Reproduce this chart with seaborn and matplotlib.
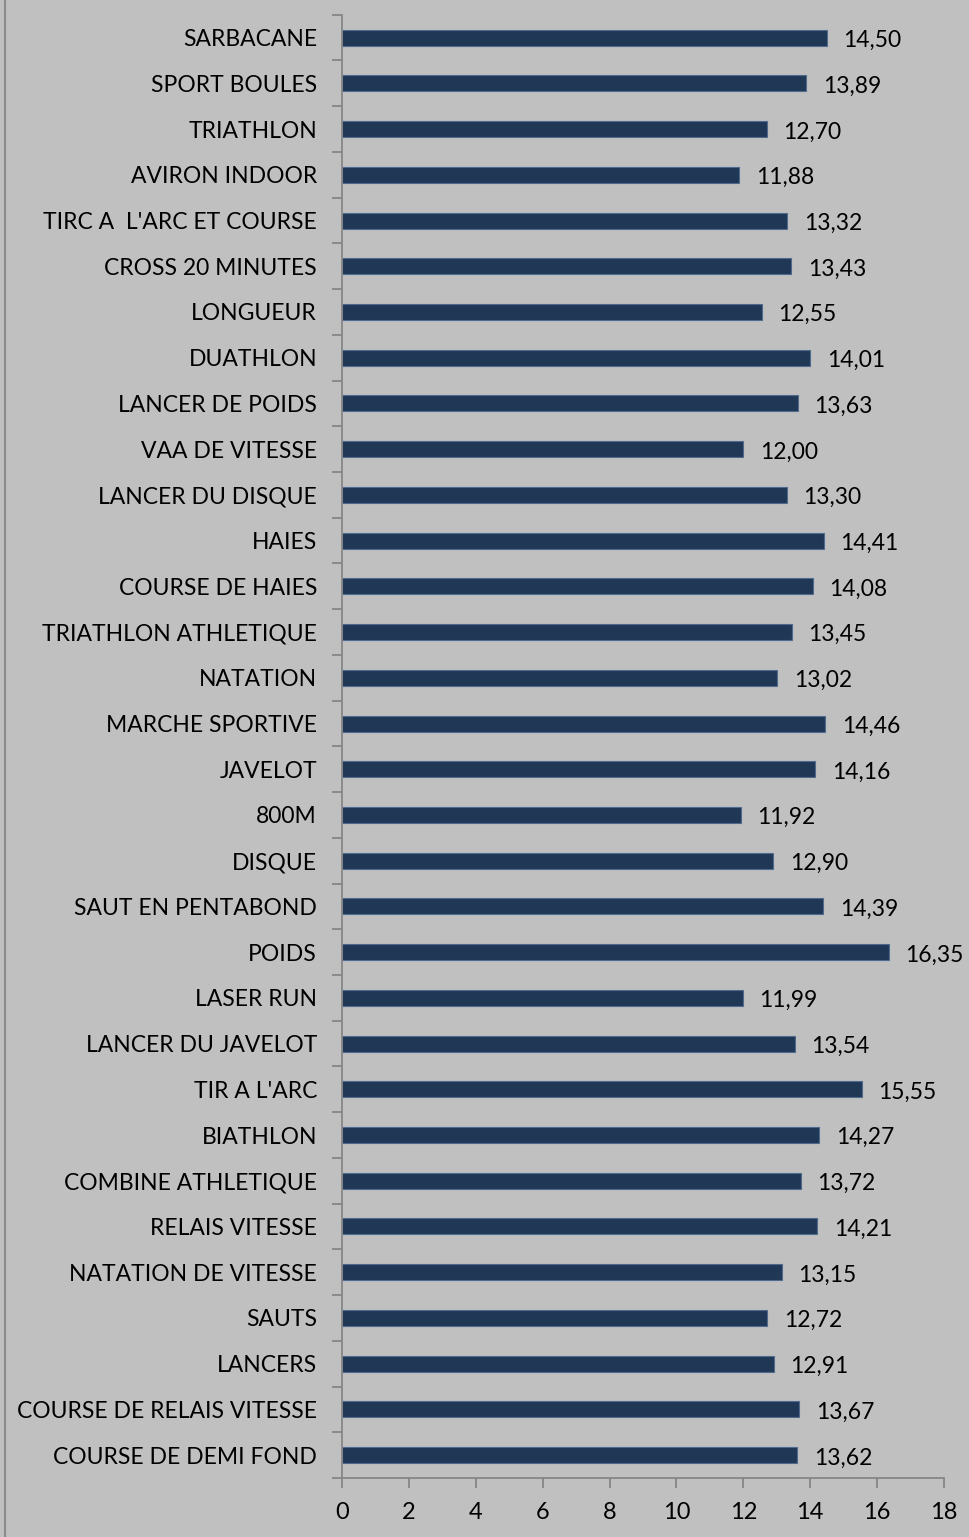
import numpy as np
import matplotlib.pyplot as plt
import matplotlib.lines as mlines
import pandas as pd
import seaborn as sns

sports = ["SARBACANE", "SPORT BOULES", "TRIATHLON", "AVIRON INDOOR",
          "TIRC A  L'ARC ET COURSE", "CROSS 20 MINUTES", "LONGUEUR", "DUATHLON",
          "LANCER DE POIDS", "VAA DE VITESSE", "LANCER DU DISQUE", "HAIES",
          "COURSE DE HAIES", "TRIATHLON ATHLETIQUE", "NATATION", "MARCHE SPORTIVE",
          "JAVELOT", "800M", "DISQUE", "SAUT EN PENTABOND", "POIDS", "LASER RUN",
          "LANCER DU JAVELOT", "TIR A L'ARC", "BIATHLON", "COMBINE ATHLETIQUE",
          "RELAIS VITESSE", "NATATION DE VITESSE", "SAUTS", "LANCERS",
          "COURSE DE RELAIS VITESSE", "COURSE DE DEMI FOND"]
notes = [14.50, 13.89, 12.70, 11.88, 13.32, 13.43, 12.55, 14.01, 13.63, 12.00,
         13.30, 14.41, 14.08, 13.45, 13.02, 14.46, 14.16, 11.92, 12.90, 14.39,
         16.35, 11.99, 13.54, 15.55, 14.27, 13.72, 14.21, 13.15, 12.72, 12.91,
         13.67, 13.62]
x_ticks = [0, 2, 4, 6, 8, 10, 12, 14, 16, 18]

df = pd.DataFrame({"sport": sports, "note": notes})

sns.set_theme(style="white")
plt.rcParams['font.family'] = ['Lato', 'DejaVu Sans']
bg = '#C0C0C0'
axis_col = '#868686'

fig = plt.figure(figsize=(9.69, 15.37), dpi=100, facecolor=bg)
ax = fig.add_axes([0.353, 0.0384, 0.621, 0.952])
ax.set_facecolor(bg)

sns.barplot(data=df, x="note", y="sport", orient="h", color='#17375E',
            width=0.35, edgecolor='#4F6A8F', linewidth=0.8, ax=ax)

n = len(sports)
ax.set_xlim(0, 18)
ax.set_ylim(n - 0.5, -0.5)
ax.set_xticks(x_ticks)
ax.set_yticks(np.arange(-0.5, n), minor=True)
ax.tick_params(axis='y', which='major', length=0, pad=18, labelsize=16.5, labelcolor='black')
ax.tick_params(axis='y', which='minor', length=7, width=1.3, color=axis_col, direction='out', left=True)
ax.tick_params(axis='x', which='major', length=7, width=1.3, color=axis_col, direction='out',
               bottom=True, pad=10, labelsize=17, labelcolor='black')
ax.set_xlabel('')
ax.set_ylabel('')

for s in ['top', 'right']:
    ax.spines[s].set_visible(False)
for s in ['left', 'bottom']:
    ax.spines[s].set_color(axis_col)
    ax.spines[s].set_linewidth(1.3)

for i, v in enumerate(notes):
    ax.annotate(f"{v:.2f}".replace('.', ','), xy=(v, i), xytext=(12, -2),
                textcoords='offset points', va='center', ha='left', fontsize=16.5, color='black')

# bordure gauche de la zone graphique
fig.add_artist(mlines.Line2D([0.0055, 0.0055], [0, 1], color='#8C8C8C', lw=1.5))

fig.savefig('out.png', dpi=100, facecolor=bg)
